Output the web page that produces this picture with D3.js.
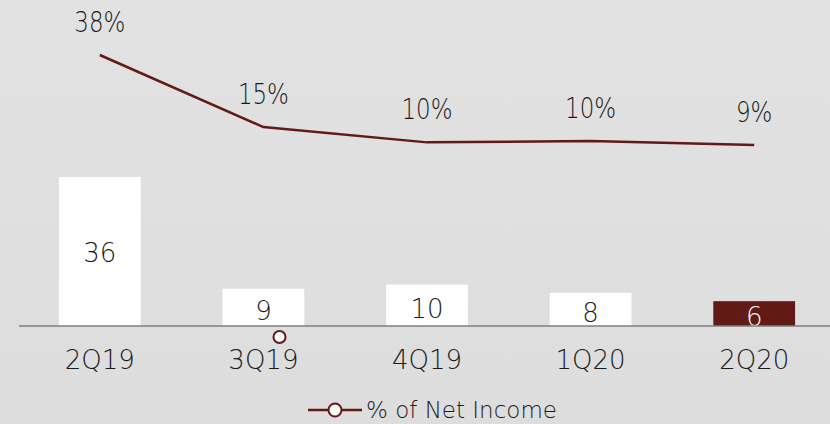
<!DOCTYPE html>
<html>
<head>
<meta charset="utf-8">
<script src="https://cdn.jsdelivr.net/npm/d3@7"></script>
<style>
  body { margin: 0; background: #e0e0e0; }
  svg { display: block; font-family: "DejaVu Sans", sans-serif; }
</style>
</head>
<body>
<div id="chart"></div>
<script>
var quarters = ["2Q19", "3Q19", "4Q19", "1Q20", "2Q20"];
var amounts = [36, 9, 10, 8, 6];
var pctNetIncome = [38, 15, 10.1, 10.5, 9.3];
var pctLabels = ["38%", "15%", "10%", "10%", "9%"];

var width = 830, height = 424;
var darkRed = "#621a16";
var textColor = "#1a1a1a";

var svg = d3.select("#chart")
    .append("svg")
    .attr("width", width)
    .attr("height", height);

// background
var defs = svg.append("defs");
var grad = defs.append("linearGradient").attr("id", "bg")
    .attr("x1", 0).attr("y1", 0).attr("x2", 0).attr("y2", 1);
grad.append("stop").attr("offset", "0%").attr("stop-color", "#e2e2e2");
grad.append("stop").attr("offset", "100%").attr("stop-color", "#dddddd");
svg.append("rect").attr("width", width).attr("height", height).attr("fill", "url(#bg)");

var x = d3.scaleBand().domain(quarters).range([18, 836]).paddingInner(0.5).paddingOuter(0.25);
var yBar = d3.scaleLinear().domain([0, 36]).range([326, 177]);
var yLine = d3.scaleLinear().domain([0, 38]).range([174, 55]);

var data = quarters.map(function(q, i) {
  return { q: q, amt: amounts[i], pct: pctNetIncome[i], label: pctLabels[i], last: i === quarters.length - 1 };
});

function cx(d) { return x(d.q) + x.bandwidth() / 2; }

// bars
svg.selectAll(".bar")
    .data(data)
    .enter().append("rect")
    .attr("class", "bar")
    .attr("x", function(d) { return x(d.q); })
    .attr("y", function(d) { return yBar(d.amt); })
    .attr("width", x.bandwidth())
    .attr("height", function(d) { return yBar(0) - yBar(d.amt); })
    .attr("fill", function(d) { return d.last ? darkRed : "#ffffff"; });

svg.selectAll(".barLabel")
    .data(data)
    .enter().append("text")
    .attr("class", "barLabel")
    .attr("x", cx)
    .attr("y", function(d) { return (yBar(d.amt) + yBar(0)) / 2 + (d.amt < 20 ? 3 : 1); })
    .attr("dy", "0.36em")
    .attr("text-anchor", "middle")
    .attr("font-size", 26)
    .attr("font-weight", 200)
    .attr("fill", function(d) { return d.last ? "#ffffff" : textColor; })
    .text(function(d) { return d.amt; });

// axis
var axis = svg.append("g")
    .attr("transform", "translate(0," + yBar(0) + ")")
    .call(d3.axisBottom(x).tickSize(0).tickPadding(25));
axis.select(".domain").attr("d", "M19,0H830").attr("stroke", "#7f7f7f").attr("stroke-width", 1.5);
axis.selectAll(".tick text")
    .attr("font-size", 26)
    .attr("font-weight", 200)
    .attr("font-family", "DejaVu Sans, sans-serif")
    .attr("fill", textColor);

// line
var line = d3.line()
    .x(cx)
    .y(function(d) { return yLine(d.pct); });

svg.append("path")
    .datum(data)
    .attr("fill", "none")
    .attr("stroke", darkRed)
    .attr("stroke-width", 2.5)
    .attr("d", line);

// percent labels: light face, squeezed horizontally
svg.selectAll(".pctLabel")
    .data(data)
    .enter().append("text")
    .attr("class", "pctLabel")
    .attr("x", cx)
    .attr("y", function(d) { return yLine(d.pct) - 33; })
    .attr("dy", "0.36em")
    .attr("text-anchor", "middle")
    .attr("font-size", 28)
    .attr("font-weight", 200)
    .attr("fill", textColor)
    .text(function(d) { return d.label; })
    .each(function() {
      var w = this.getComputedTextLength();
      d3.select(this).attr("textLength", w * 0.82).attr("lengthAdjust", "spacingAndGlyphs");
    });

// stray marker under 3Q19
svg.append("circle")
    .attr("cx", x("3Q19") + 57)
    .attr("cy", yBar(0) + 11)
    .attr("r", 6)
    .attr("fill", "#ffffff")
    .attr("stroke", darkRed)
    .attr("stroke-width", 2);

// legend
var legend = svg.append("g").attr("transform", "translate(308,410)");
legend.append("line")
    .attr("x1", 0).attr("x2", 54).attr("y1", 0).attr("y2", 0)
    .attr("stroke", darkRed).attr("stroke-width", 2.5);
legend.append("circle")
    .attr("cx", 27).attr("cy", 0).attr("r", 6.5)
    .attr("fill", "#ffffff").attr("stroke", darkRed).attr("stroke-width", 2);
legend.append("text")
    .attr("x", 58).attr("y", 0).attr("dy", "0.36em")
    .attr("font-size", 23)
    .attr("font-weight", 200)
    .attr("fill", textColor)
    .text("% of Net Income");
</script>
</body>
</html>
